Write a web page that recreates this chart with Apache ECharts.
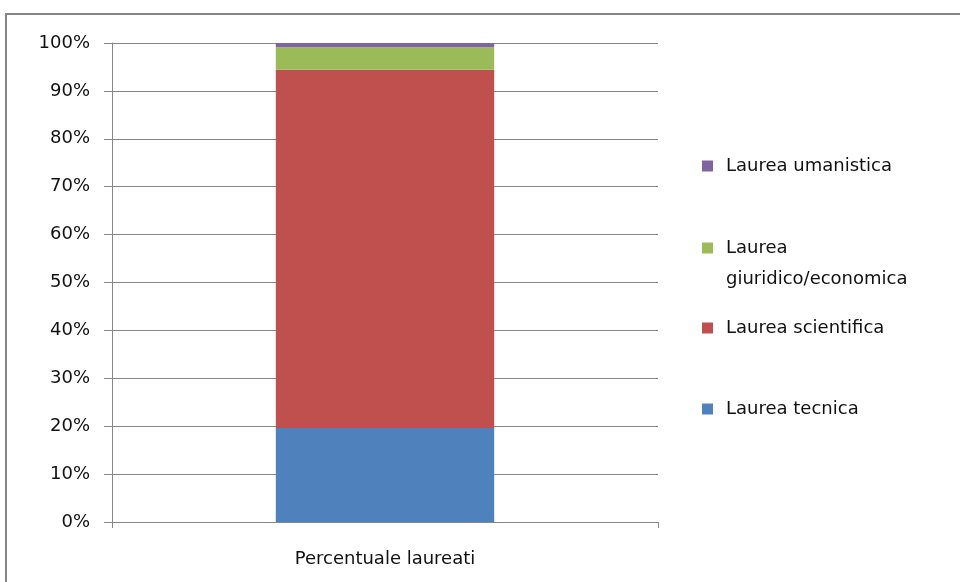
<!DOCTYPE html>
<html>
<head>
<meta charset="utf-8">
<script src="https://cdn.jsdelivr.net/npm/echarts@6/dist/echarts.min.js"></script>
<style>html,body{margin:0;padding:0;background:#fff;}#c{width:960px;height:582px;}</style>
</head>
<body>
<div id="c"></div>
<script>
const categories = ['Percentuale laureati'];
const seriesNames = ['Laurea tecnica', 'Laurea scientifica', 'Laurea giuridico/economica', 'Laurea umanistica'];
const legendLabels = ['Laurea tecnica', 'Laurea scientifica', ' \nLaurea\ngiuridico/economica', 'Laurea umanistica'];
const tecnica = [19.6];
const scientifica = [74.8];
const giuridico = [4.7];
const umanistica = [0.9];
const seriesColors = ['#4f81bd', '#c0504d', '#9bbb59', '#8064a2'];
const yTicks = [0, 10, 20, 30, 40, 50, 60, 70, 80, 90, 100];

const values = [tecnica, scientifica, giuridico, umanistica];
const font = '"DejaVu Sans", Verdana, sans-serif';
const LH = 31;
const legendCenters = [409, 328, 248, 166];

const chart = echarts.init(document.getElementById('c'));
const legends = seriesNames.map((n, i) => {
  const multi = legendLabels[i].indexOf('\n') >= 0;
  const iconH = 11;
  const top = multi ? legendCenters[i] - 1.5 * LH : legendCenters[i] - LH / 2;
  return {
    data: [n],
    left: 702,
    top: top,
    orient: 'vertical',
    padding: 0,
    itemWidth: iconH,
    itemHeight: iconH,
    icon: 'rect',
    selectedMode: false,
    formatter: () => legendLabels[i],
    textStyle: {
      fontFamily: font, fontSize: 18, color: '#111', lineHeight: LH,
      padding: [0, 0, 0, 8]
    }
  };
});

chart.setOption({
  animation: false,
  backgroundColor: '#fff',
  graphic: [{
    type: 'rect', silent: true, z: -1,
    shape: { x: 6, y: 14, width: 1200, height: 1200 },
    style: { fill: 'none', stroke: '#858585', lineWidth: 2 }
  }],
  legend: legends,
  grid: { left: 112, right: 302, top: 43, bottom: 60 },
  xAxis: {
    type: 'category',
    data: categories,
    axisLine: { lineStyle: { color: '#868686', width: 1 } },
    axisTick: { show: true, length: 6, lineStyle: { color: '#868686' } },
    axisLabel: { fontFamily: font, fontSize: 18, color: '#111', margin: 28 }
  },
  yAxis: {
    type: 'value',
    min: 0, max: 100, interval: 10,
    axisLine: { show: true, lineStyle: { color: '#868686', width: 1 } },
    axisTick: { show: true, length: 8, lineStyle: { color: '#868686' } },
    splitLine: { lineStyle: { color: '#868686', width: 1 } },
    axisLabel: {
      fontFamily: font, fontSize: 18, color: '#111', margin: 22,
      formatter: v => yTicks.indexOf(v) >= 0 ? v + '%' : ''
    }
  },
  series: seriesNames.map((n, i) => ({
    name: n,
    type: 'bar',
    stack: 'total',
    barWidth: '40%',
    data: values[i],
    itemStyle: { color: seriesColors[i] }
  }))
});
</script>
</body>
</html>
